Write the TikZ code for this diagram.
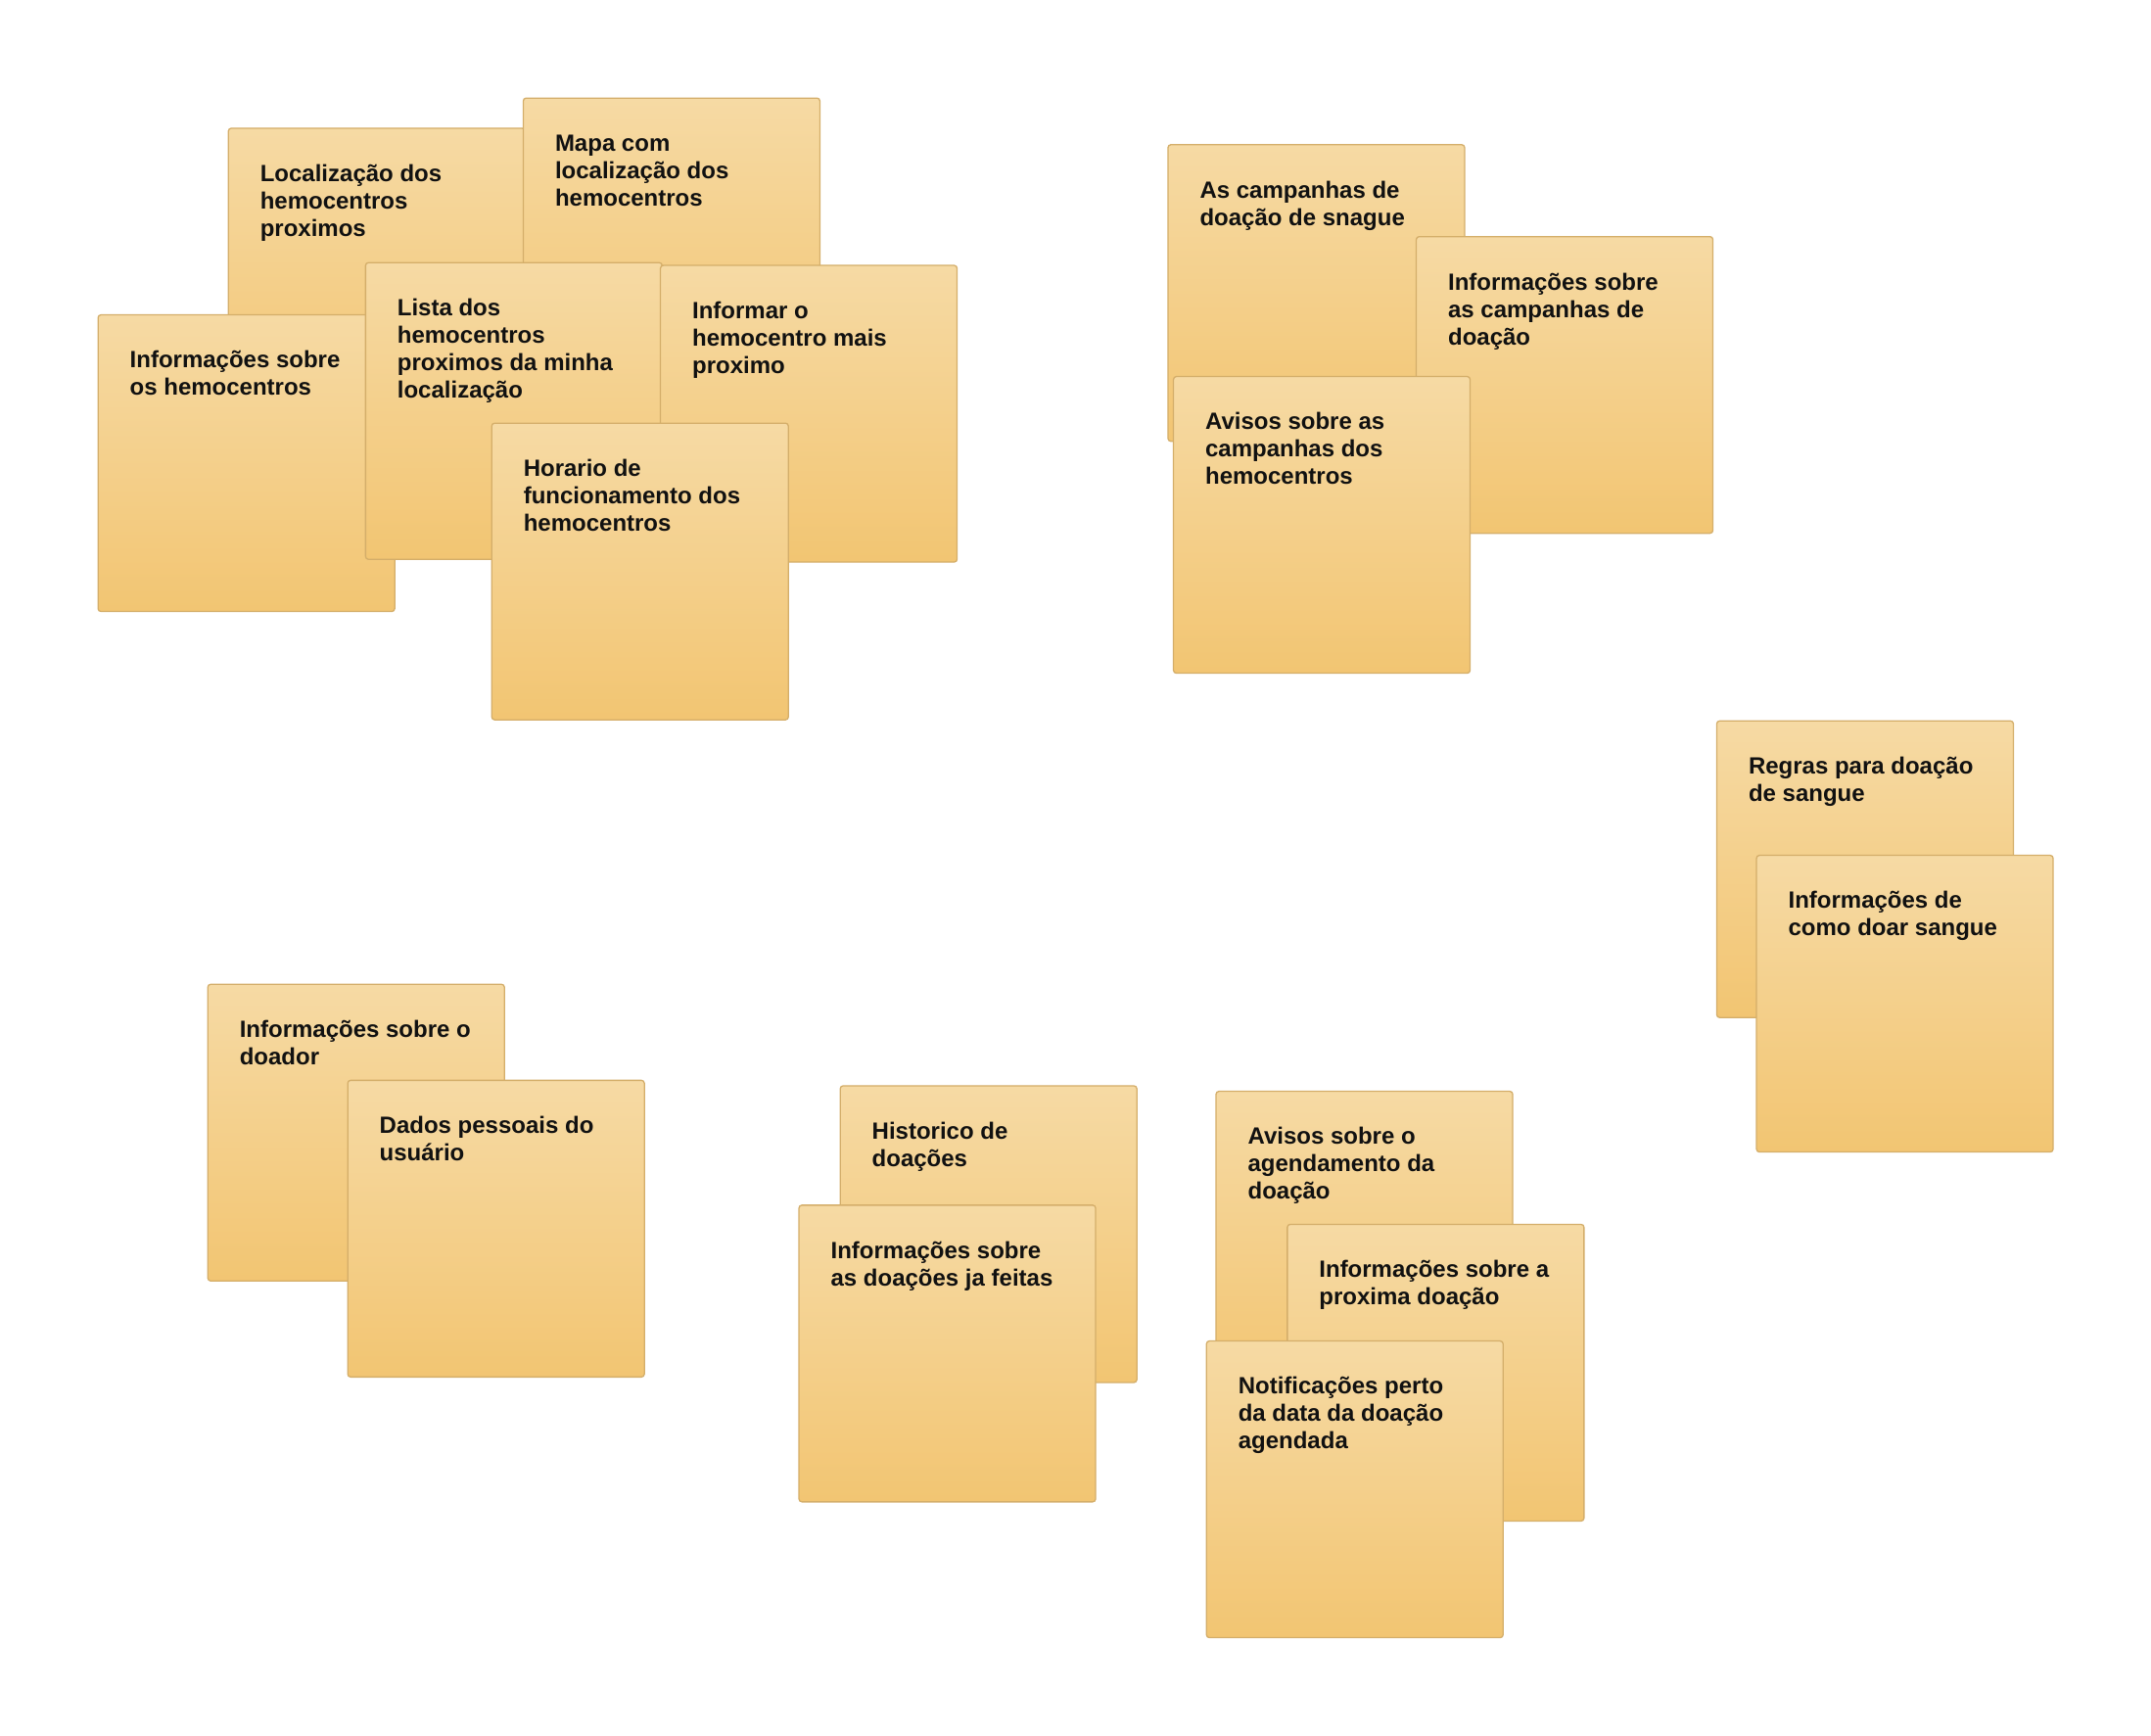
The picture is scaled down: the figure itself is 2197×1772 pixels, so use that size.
\documentclass[tikz,border=0pt]{standalone}
\usepackage{fontspec}
\setmainfont{Liberation Sans}
\definecolor{notetop}{HTML}{F6DAA4}
\definecolor{notebot}{HTML}{F2C572}
\definecolor{noteedge}{HTML}{D4AE6A}
\definecolor{notetext}{HTML}{111111}
\tikzset{
  notebox/.style={draw=noteedge, line width=1.3pt, rounded corners=3pt,
    top color=notetop, bottom color=notebot,
    minimum width=303pt, minimum height=303pt, inner sep=0pt, anchor=north west},
  notetxt/.style={anchor=base west, inner sep=0pt, text=notetext,
    font=\bfseries\fontsize{24pt}{28pt}\selectfont}
}
\newcommand\stickynote[4]{%
  \node[notebox] (#1) at (#2,#3) {};
  \node[notetxt] (#1t) at ([xshift=33pt,yshift=-55pt]#1.north west)
    {\begin{minipage}[t]{265pt}\raggedright #4\end{minipage}};}
\begin{document}
\begin{tikzpicture}[x=1pt,y=-1pt]
\useasboundingbox (0,0) rectangle (2197,1772);
% group 1
\stickynote{A}{232.6}{130.3}{Localização dos\\hemocentros\\proximos}
\stickynote{B}{533.8}{99.5}{Mapa com\\localização dos\\hemocentros}
\stickynote{C}{99.5}{320.9}{Informações sobre\\os hemocentros}
\stickynote{D}{372.7}{267.6}{Lista dos\\hemocentros\\proximos da minha\\localização}
\stickynote{E}{673.9}{270.4}{Informar o\\hemocentro mais\\proximo}
\stickynote{F}{501.6}{431.5}{Horario de\\funcionamento dos\\hemocentros}
% group 2
\stickynote{G}{1192.3}{147.1}{As campanhas de\\doação de snague}
\stickynote{H}{1445.9}{241.0}{Informações sobre\\as campanhas de\\doação}
\stickynote{I}{1197.9}{383.9}{Avisos sobre as\\campanhas dos\\hemocentros}
% group 3
\stickynote{J}{1752.8}{735.6}{Regras para doação\\de sangue}
\stickynote{K}{1793.4}{872.9}{Informações de\\como doar sangue}
% group 4
\stickynote{L}{211.6}{1004.6}{Informações sobre o\\doador}
\stickynote{M}{354.5}{1102.7}{Dados pessoais do\\usuário}
% group 5
\stickynote{N}{857.5}{1108.3}{Historico de\\doações}
\stickynote{O}{815.4}{1230.2}{Informações sobre\\as doações ja feitas}
% group 6
\stickynote{P}{1241.4}{1113.9}{Avisos sobre o\\agendamento da\\doação}
\stickynote{Q}{1314.2}{1249.8}{Informações sobre a\\proxima doação}
\stickynote{R}{1231.6}{1368.9}{Notificações perto\\da data da doação\\agendada}
\end{tikzpicture}
\end{document}
